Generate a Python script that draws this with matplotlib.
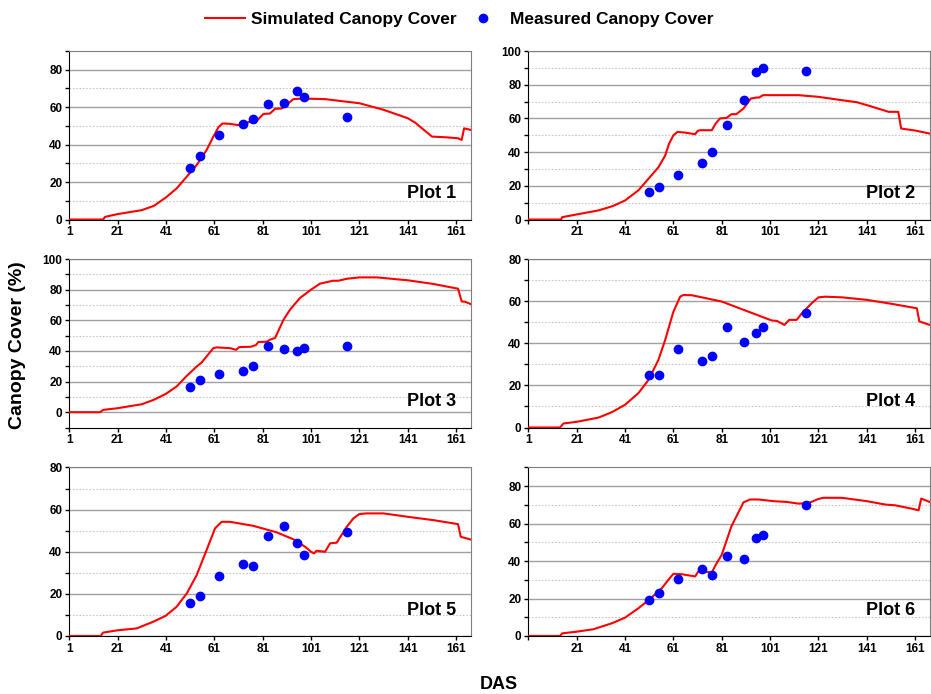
import matplotlib
matplotlib.use('Agg')
import matplotlib.pyplot as plt
from matplotlib.lines import Line2D

plt.rcParams['font.family'] = ['Liberation Sans', 'DejaVu Sans']
plt.rcParams['font.weight'] = 'bold'

# measured days (same for all plots)
obs_days = [51, 55, 63, 73, 77, 83, 90, 95, 98, 116]

obs1 = [27.7, 33.7, 45.2, 51.2, 53.9, 61.8, 62.0, 68.7, 65.5, 54.6]
obs2 = [16.5, 19.0, 26.2, 33.5, 40.3, 56.0, 70.8, 87.7, 89.7, 88.1]
obs3 = [16.6, 20.9, 25.1, 26.8, 30.3, 43.4, 41.2, 39.9, 41.6, 43.1]
obs4 = [25.0, 25.0, 37.3, 31.5, 34.0, 47.6, 40.6, 44.7, 47.9, 54.5]
obs5 = [15.5, 19.0, 28.3, 34.0, 33.2, 47.7, 52.3, 44.0, 38.4, 49.5]
obs6 = [19.1, 22.7, 30.7, 35.7, 32.7, 42.7, 41.3, 52.3, 53.9, 69.8]

# simulated canopy cover, read at breakpoints
sim1_x = [1, 15, 15.8, 21, 31, 36, 41, 45.4, 49.6, 53.7, 57.8, 60.6, 62.7, 64.4, 67.5, 70.9, 71.9, 74.4, 75,
          78, 81.3, 84, 86.1, 88.9, 90.9, 93.7, 96, 101, 106.8, 121, 131, 141, 144, 151, 157, 161.8, 163.3, 164.3, 167]
sim1_y = [0, 0, 1.4, 2.9, 5.0, 7.3, 11.8, 16.6, 22.9, 29.1, 37.1, 44.3, 49.3, 51.3, 51.1, 50.4, 51.1, 51.0, 52.1,
          52.0, 56.4, 56.6, 59.1, 59.3, 61.3, 64.3, 64.5, 64.5, 64.3, 62.1, 58.6, 54.1, 51.8, 44.3, 43.9, 43.4, 42.5, 48.7, 47.9]

sim2_x = [1, 14.5, 15, 21, 30, 36, 41, 46.5, 50.7, 54.8, 57.6, 59.2, 61, 62.7, 65.8, 70, 71, 72, 76.9, 78.5, 80.3,
          83, 85, 87, 90, 93, 95.5, 96.5, 98, 112.7, 121, 130.7, 136.9, 142.4, 150, 154, 155.2, 161, 167]
sim2_y = [0, 0, 1.4, 3.0, 5.4, 8.0, 11.3, 17.3, 24.2, 31.0, 38.0, 45.0, 50.0, 52.0, 51.6, 50.6, 52.6, 53.0, 53.0, 57.0, 60.0,
          60.3, 62.5, 62.5, 65.9, 71.8, 72.4, 72.4, 73.8, 73.8, 72.8, 70.8, 69.6, 67.3, 63.9, 63.9, 54.0, 52.8, 51.0]

sim3_x = [1, 13.7, 15, 21, 31, 36, 41, 45.4, 49.6, 53.7, 55.8, 57.8, 60.6, 62, 67.5, 70, 71.3, 76, 78.2, 79.2, 82.7,
          84, 86.1, 89.6, 92.3, 96.4, 101, 104.7, 110, 112.3, 115.8, 121, 128.2, 141, 151.6, 161.8, 163.3, 164.7, 167]
sim3_y = [0, 0, 1.5, 2.6, 5.2, 8.1, 12.0, 16.8, 23.7, 29.8, 32.5, 36.4, 41.8, 42.3, 41.8, 40.7, 42.5, 42.7, 43.8, 45.8, 46.0,
          47.3, 48.4, 60.3, 66.9, 74.5, 80.0, 83.9, 85.8, 85.8, 87.1, 88.0, 88.0, 86.1, 83.7, 80.6, 72.3, 72.1, 70.6]

sim4_x = [1, 14.1, 15.5, 21, 30, 35.6, 41, 46.5, 50.7, 54.8, 57.6, 61, 63.8, 65.1, 68.6, 81, 92, 101.7, 103.8, 106.9,
          108.9, 112, 114.1, 118.2, 121, 123.8, 130.7, 141, 151.3, 161.7, 162.7, 167]
sim4_y = [0, 0, 1.9, 2.7, 4.7, 7.3, 10.8, 16.3, 22.6, 32.1, 41.6, 55.0, 62.1, 62.9, 62.8, 59.8, 55.0, 50.8, 50.6, 48.7,
          51.1, 51.1, 54.2, 59.0, 61.8, 62.1, 61.8, 60.6, 58.7, 56.6, 50.4, 48.7]

sim5_x = [1, 14, 15, 21, 28.9, 35.8, 40.9, 45.4, 49.6, 53.7, 57.8, 61.3, 64, 67.5, 77.1, 86.8, 93.7, 98.5, 101, 102.2,
          103.3, 106.8, 108.9, 111.6, 115.8, 118.5, 121, 124, 130.9, 140.9, 151.6, 161.8, 162.9, 167]
sim5_y = [0, 0, 1.6, 2.7, 3.6, 6.8, 9.6, 13.9, 20.2, 28.9, 40.8, 51.1, 54.2, 54.2, 52.3, 49.2, 45.9, 42.4, 40.0, 39.2,
          40.5, 40.0, 44.0, 44.3, 51.9, 55.8, 57.9, 58.2, 58.2, 56.6, 55.0, 53.1, 47.1, 45.8]

sim6_x = [1, 14.1, 15, 21, 27.9, 35.6, 41, 46.5, 50.9, 56.2, 58.9, 61, 64.4, 70, 71.3, 72.7, 76.9, 78.5, 81, 85, 90,
          92.7, 96.2, 99, 102.4, 107.9, 112.7, 116.9, 121, 123, 130.7, 141, 148.6, 152.7, 159.6, 162.4, 163.5, 167]
sim6_y = [0, 0, 1.4, 2.3, 3.6, 6.8, 9.8, 14.8, 19.3, 25.5, 30.0, 33.2, 33.0, 31.8, 34.5, 34.5, 33.9, 38.0, 43.4, 58.6, 71.4,
          72.9, 72.9, 72.5, 72.0, 71.6, 70.7, 71.0, 73.2, 73.8, 73.8, 72.0, 70.2, 69.8, 68.0, 67.1, 73.4, 71.6]

plots = [
    ('Plot 1', sim1_x, sim1_y, obs1, (0, 90), 80),
    ('Plot 2', sim2_x, sim2_y, obs2, (0, 100), 100),
    ('Plot 3', sim3_x, sim3_y, obs3, (-10, 100), 100),
    ('Plot 4', sim4_x, sim4_y, obs4, (0, 80), 80),
    ('Plot 5', sim5_x, sim5_y, obs5, (0, 80), 80),
    ('Plot 6', sim6_x, sim6_y, obs6, (0, 90), 80),
]

xticks = [1, 21, 41, 61, 81, 101, 121, 141, 161]

fig = plt.figure(figsize=(9.31, 6.94), dpi=100)

lefts = [0.0744, 0.5675]
bottoms = [0.6837, 0.384, 0.0836]
w, h = 0.4311, 0.2428

for i, (name, sx, sy, obs, ylim, ymax_tick) in enumerate(plots):
    row, col = divmod(i, 2)
    ax = fig.add_axes([lefts[col], bottoms[row], w, h])
    ax.set_xlim(1, 167)
    ax.set_ylim(*ylim)
    ax.set_xticks(xticks)
    labels = [str(t) for t in xticks]
    if col == 1 and name != 'Plot 4':
        labels[0] = ''
    ax.set_xticklabels(labels)
    ax.set_yticks(range(0, ymax_tick + 1, 20))
    ax.set_yticks(range(ylim[0], ylim[1] + 1, 10), minor=True)
    ax.grid(which='major', axis='y', color='#a0a0a0', lw=1, ls='-')
    ax.grid(which='minor', axis='y', color='#c8c8c8', lw=0.8, ls=(0, (1.5, 1.5)))
    ax.set_axisbelow(True)
    ax.plot(sx, sy, color='#ff0000', lw=1.5, zorder=3)
    ax.plot(obs_days, obs, 'o', color='#0000ff', ms=6, zorder=4)
    ax.tick_params(axis='both', which='major', direction='out', length=3, width=1, labelsize=8.5, pad=2)
    ax.tick_params(axis='y', which='minor', direction='out', length=3, width=1)
    ax.tick_params(axis='x', which='minor', length=0)
    for lab in ax.get_xticklabels() + ax.get_yticklabels():
        lab.set_fontweight('bold')
    ax.spines['top'].set_color('#808080')
    ax.spines['right'].set_color('#808080')
    ax.spines['left'].set_color('black')
    ax.spines['bottom'].set_color('black')
    ax.text(0.963, 0.125, name, transform=ax.transAxes, ha='right', va='baseline',
            fontsize=13, fontweight='bold')

handles = [Line2D([], [], color='#ff0000', lw=1.5),
           Line2D([], [], ls='', marker='o', color='#0000ff', ms=6)]
fig.legend(handles, ['Simulated Canopy Cover', 'Measured Canopy Cover'], loc='upper center',
           bbox_to_anchor=(0.493, 1.005), ncol=2, frameon=False,
           prop={'size': 12.5, 'weight': 'bold'}, handlelength=2.3, handletextpad=0.35, columnspacing=0.4)

fig.text(0.019, 0.503, 'Canopy Cover (%)', rotation=90, ha='center', va='center', fontsize=14, fontweight='bold')
fig.text(0.5355, 0.013, 'DAS', ha='center', va='center', fontsize=13, fontweight='bold')

fig.savefig('out.png', dpi=100)
